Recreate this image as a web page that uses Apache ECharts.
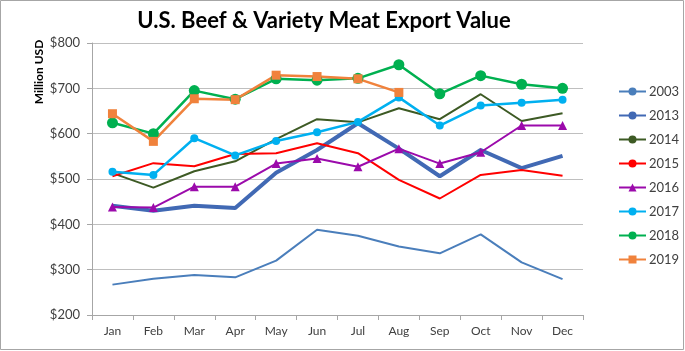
<!DOCTYPE html>
<html>
<head>
<meta charset="utf-8">
<script src="https://cdn.jsdelivr.net/npm/echarts@6/dist/echarts.min.js"></script>
<style>
  html, body { margin: 0; padding: 0; background: #fff; }
  #chart { width: 685px; height: 351px; }
</style>
</head>
<body>
<div id="chart"></div>
<script>
// monthly export value, million USD
var months = ['Jan', 'Feb', 'Mar', 'Apr', 'May', 'Jun', 'Jul', 'Aug', 'Sep', 'Oct', 'Nov', 'Dec'];
var v2003 = [267, 280, 288, 283, 320, 388, 375, 351, 336, 378, 316, 279];
var v2013 = [441, 430, 441, 436, 514, 564, 623, 567, 506, 564, 524, 551];
var v2014 = [513, 481, 517, 539, 588, 632, 625, 656, 632, 687, 628, 645];
var v2015 = [506, 535, 528, 555, 557, 579, 557, 498, 457, 509, 520, 507];
var v2016 = [438, 437, 483, 483, 534, 545, 527, 567, 534, 559, 618, 618];
var v2017 = [516, 509, 590, 552, 584, 603, 626, 680, 618, 662, 668, 675];
var v2018 = [624, 600, 695, 676, 721, 718, 722, 752, 688, 728, 709, 700];
var v2019 = [644, 583, 677, 675, 729, 726, 721, 691];

var font = 'Lato, "Open Sans", sans-serif';

function line(name, data, color, width, symbol, size) {
  return {
    name: name,
    type: 'line',
    data: data,
    symbol: symbol || 'none',
    symbolSize: size || 0,
    showSymbol: !!symbol,
    lineStyle: { color: color, width: width },
    itemStyle: { color: color },
    animation: false
  };
}

var chart = echarts.init(document.getElementById('chart'));
chart.setOption({
  backgroundColor: '#fff',
  textStyle: { fontFamily: font },
  title: {
    text: 'U.S. Beef & Variety Meat Export Value',
    left: 319,
    textAlign: 'center',
    top: 5,
    textStyle: { fontSize: 22, fontWeight: 'bold', color: '#000', fontFamily: font }
  },
  graphic: [
    {
      type: 'rect',
      shape: { x: 0.5, y: 0.5, width: 683, height: 349 },
      style: { fill: 'none', stroke: '#a6a6a6', lineWidth: 1 },
      silent: true
    },
    {
      type: 'text',
      x: 39,
      y: 72,
      rotation: Math.PI / 2,
      style: {
        text: 'Million USD',
        font: 'bold 12px ' + font,
        fill: '#000',
        align: 'center',
        verticalAlign: 'middle'
      }
    }
  ],
  legend: {
    orient: 'vertical',
    left: 613,
    top: 80,
    itemWidth: 27,
    itemHeight: 10,
    itemGap: 11,
    textStyle: { fontSize: 13, color: '#404040', padding: [0, 0, 0, -2] },
    data: ['2003', '2013', '2014', '2015', '2016', '2017', '2018', '2019']
  },
  grid: { left: 92, right: 102, top: 43, bottom: 36, containLabel: false },
  xAxis: {
    type: 'category',
    data: months,
    boundaryGap: true,
    axisLine: { lineStyle: { color: '#a6a6a6' } },
    axisTick: { show: true, alignWithLabel: false, length: 5, lineStyle: { color: '#a6a6a6' } },
    axisLabel: { fontSize: 12, color: '#404040', margin: 10 }
  },
  yAxis: {
    type: 'value',
    min: 200,
    max: 800,
    interval: 100,
    axisLine: { show: true, lineStyle: { color: '#a6a6a6' } },
    axisTick: { show: true, length: 5, lineStyle: { color: '#a6a6a6' } },
    axisLabel: { fontSize: 13, color: '#404040', margin: 12, formatter: '${value}' },
    splitLine: { lineStyle: { color: '#bfbfbf' } }
  },
  series: [
    line('2003', v2003, '#4a7ebb', 2),
    line('2013', v2013, '#4169b4', 4),
    line('2014', v2014, '#3d5a24', 2),
    line('2015', v2015, '#ff0000', 2),
    line('2016', v2016, '#9b0aab', 2, 'triangle', 9),
    line('2017', v2017, '#00b0f0', 2.5, 'circle', 8),
    line('2018', v2018, '#00b050', 2.5, 'circle', 11),
    line('2019', v2019, '#f0823c', 2.5, 'rect', 9)
  ]
});
</script>
</body>
</html>
